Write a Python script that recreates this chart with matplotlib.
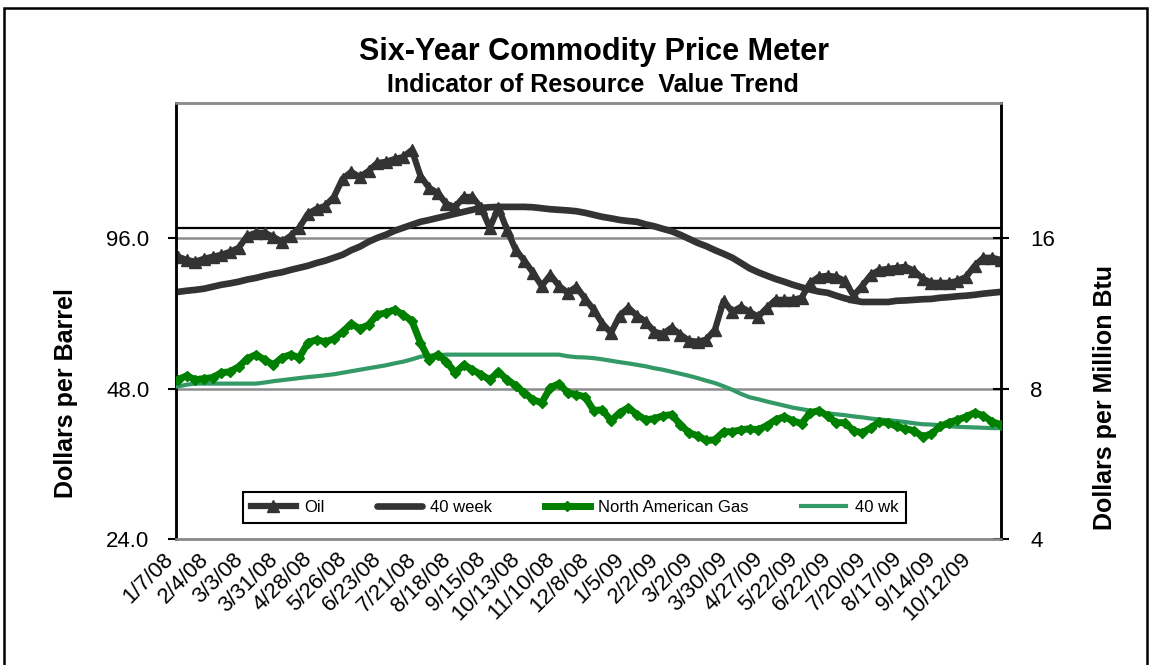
import numpy as np
import matplotlib.pyplot as plt
from matplotlib.patches import Rectangle
from matplotlib.ticker import FixedLocator, FixedFormatter, NullLocator

plt.rcParams['font.family'] = ['Liberation Sans', 'DejaVu Sans']

# weekly series, 1/7/08 .. 11/2/09
oil = [88.2, 86.9, 86.2, 87.4, 88.2, 89.0, 90.2, 91.9, 97.1, 98.5,
       98.5, 96.7, 94.5, 97.1, 100.8, 107.5, 110.0, 111.5, 116.2, 126.3,
       130.4, 127.4, 131.0, 135.9, 136.6, 138.4, 139.7, 144.3, 128.0, 121.1,
       118.4, 112.5, 111.0, 116.2, 116.2, 110.5, 100.8, 110.5, 99.8, 91.0,
       86.6, 81.9, 77.1, 81.1, 77.1, 74.7, 76.8, 72.7, 69.1, 64.8,
       62.1, 67.2, 69.7, 67.2, 65.4, 62.4, 61.8, 63.6, 61.6, 59.9,
       59.6, 60.2, 63.0, 72.0, 68.4, 70.0, 68.4, 66.9, 69.7, 72.3,
       72.3, 72.3, 73.0, 78.2, 80.4, 80.8, 80.4, 78.9, 73.7, 77.1,
       81.1, 83.0, 83.4, 83.8, 84.2, 82.7, 79.7, 78.2, 78.2, 78.2,
       78.9, 80.4, 84.6, 87.8, 87.8, 86.9]
oil_40wk = [75.0, 75.4, 75.7, 76.1, 76.8, 77.5, 78.0, 78.6, 79.4, 80.0,
            80.8, 81.5, 82.1, 83.0, 83.8, 84.6, 85.7, 86.6, 87.8, 89.0,
            90.9, 92.4, 94.5, 96.2, 97.6, 99.4, 100.8, 102.2, 103.6, 104.5,
            105.5, 106.5, 107.5, 108.5, 109.5, 110.5, 110.8, 111.0, 111.0, 111.0,
            111.0, 110.8, 110.3, 109.8, 109.5, 109.2, 108.8, 108.0, 107.0, 106.0,
            105.3, 104.5, 104.0, 103.6, 102.4, 101.5, 100.3, 99.2, 97.6, 95.8,
            94.0, 92.6, 90.9, 89.4, 87.8, 85.7, 83.6, 82.1, 80.8, 79.6,
            78.6, 77.5, 76.6, 75.8, 75.1, 74.7, 73.7, 72.8, 72.1, 71.6,
            71.6, 71.6, 71.6, 72.0, 72.1, 72.3, 72.5, 72.6, 73.0, 73.2,
            73.5, 73.7, 74.0, 74.4, 74.7, 75.0]
gas = [8.34, 8.49, 8.34, 8.38, 8.42, 8.61, 8.65, 8.85, 9.19, 9.36,
       9.14, 8.93, 9.23, 9.36, 9.23, 9.89, 10.03, 9.93, 10.07, 10.40,
       10.79, 10.55, 10.74, 11.25, 11.35, 11.51, 11.25, 10.94, 9.89, 9.14,
       9.36, 9.06, 8.61, 8.93, 8.73, 8.53, 8.34, 8.65, 8.34, 8.11,
       7.85, 7.60, 7.50, 8.04, 8.19, 7.85, 7.78, 7.71, 7.23, 7.26,
       6.90, 7.16, 7.33, 7.10, 6.93, 6.97, 7.06, 7.10, 6.78, 6.53,
       6.44, 6.30, 6.32, 6.56, 6.56, 6.62, 6.65, 6.62, 6.75, 6.93,
       7.03, 6.90, 6.81, 7.16, 7.23, 7.06, 6.84, 6.84, 6.59, 6.53,
       6.68, 6.87, 6.84, 6.72, 6.65, 6.59, 6.41, 6.50, 6.72, 6.84,
       6.93, 7.03, 7.16, 7.06, 6.87, 6.78]
gas_40wk = [8.08, 8.15, 8.19, 8.19, 8.19, 8.19, 8.19, 8.19, 8.19, 8.19,
            8.23, 8.28, 8.32, 8.36, 8.40, 8.44, 8.47, 8.51, 8.55, 8.61,
            8.67, 8.73, 8.79, 8.85, 8.91, 8.99, 9.06, 9.16, 9.27, 9.32,
            9.34, 9.36, 9.36, 9.36, 9.36, 9.36, 9.36, 9.36, 9.36, 9.36,
            9.36, 9.36, 9.36, 9.36, 9.36, 9.29, 9.25, 9.24, 9.21, 9.16,
            9.10, 9.04, 8.99, 8.93, 8.87, 8.79, 8.73, 8.65, 8.57, 8.49,
            8.40, 8.30, 8.21, 8.09, 7.96, 7.81, 7.69, 7.62, 7.54, 7.47,
            7.40, 7.33, 7.28, 7.23, 7.18, 7.14, 7.11, 7.08, 7.04, 7.01,
            6.97, 6.94, 6.92, 6.89, 6.86, 6.82, 6.79, 6.78, 6.76, 6.73,
            6.71, 6.70, 6.69, 6.68, 6.67, 6.67]
date_labels = ["1/7/08", "2/4/08", "3/3/08", "3/31/08", "4/28/08", "5/26/08",
               "6/23/08", "7/21/08", "8/18/08", "9/15/08", "10/13/08", "11/10/08",
               "12/8/08", "1/5/09", "2/2/09", "3/2/09", "3/30/09", "4/27/09",
               "5/22/09", "6/22/09", "7/20/09", "8/17/09", "9/14/09", "10/12/09"]
left_ticks = [24, 48, 96]
right_ticks = [4, 8, 16]

weeks = np.arange(len(oil))

fig = plt.figure(figsize=(11.5, 6.65), dpi=100)
ax = fig.add_axes([176/1150, 1-539/665, 825/1150, 436/665])
ax2 = ax.twinx()

top = 179.2
ax.set_yscale('log', base=2)
ax.set_ylim(24, top)
ax2.set_yscale('log', base=2)
ax2.set_ylim(4, top/6)
ax.set_xlim(-0.23, 95.03)

# grid + reference line
for v in [48, 96]:
    ax.axhline(v, color='#8c8c8c', lw=1.8, zorder=1)
ax.axhline(100.8, color='black', lw=1.6, zorder=1)

ax.plot(weeks, oil_40wk, color='#333333', lw=4.8, solid_capstyle='round', label='40 week', zorder=3)
ax.plot(weeks, oil, color='#333333', lw=4.5, marker='^', ms=8.5, label='Oil', zorder=4)
ax2.plot(weeks, gas_40wk, color='#339966', lw=3.0, label='40 wk', zorder=3)
ax2.plot(weeks, gas, color='#008000', lw=5.0, marker='D', ms=5, label='North American Gas', zorder=4)

# axes styling
for a in (ax, ax2):
    a.spines['top'].set_color('#8c8c8c')
    a.spines['bottom'].set_color('#8c8c8c')
    a.spines['left'].set_color('black')
    a.spines['right'].set_color('black')
    for s in a.spines.values():
        s.set_linewidth(1.8)
    a.yaxis.set_minor_locator(NullLocator())

ax.yaxis.set_major_locator(FixedLocator(left_ticks))
ax.yaxis.set_major_formatter(FixedFormatter([f"{t:.1f}" for t in left_ticks]))
ax.tick_params(axis='y', direction='out', length=6, width=1.5, pad=13, labelsize=16)
ax2.yaxis.set_major_locator(FixedLocator(right_ticks))
ax2.yaxis.set_major_formatter(FixedFormatter([str(t) for t in right_ticks]))
ax2.tick_params(axis='y', direction='inout', length=12, width=1.5, pad=15, labelsize=16)

ax.set_xticks(weeks[::4][:len(date_labels)])
ax.set_xticklabels(date_labels, rotation=45, ha='right', fontsize=16)
ax.tick_params(axis='x', length=0, pad=7)

# titles and axis labels
fig.text(594/1150, 1-60/665, "Six-Year Commodity Price Meter", ha='center', va='baseline',
         fontsize=22, fontweight='bold')
fig.text(593/1150, 1-92/665, "Indicator of Resource  Value Trend", ha='center', va='baseline',
         fontsize=18, fontweight='bold')
fig.text(66/1150, 1-393.5/665, "Dollars per Barrel", rotation=90, ha='center', va='center',
         fontsize=18, fontweight='bold')
fig.text(1105/1150, 1-397.5/665, "Dollars per Million Btu", rotation=90, ha='center', va='center',
         fontsize=18, fontweight='bold')

# legend
h1, l1 = ax.get_legend_handles_labels()
h2, l2 = ax2.get_legend_handles_labels()
handles = [h1[1], h1[0], h2[1], h2[0]]
labels = [l1[1], l1[0], l2[1], l2[0]]
leg = ax2.legend(handles, labels, loc='center', ncol=4,
                 bbox_to_anchor=(0.483, 0.0722),
                 fontsize=12, numpoints=1, handlelength=2.7, handletextpad=0.5,
                 columnspacing=3.15, borderpad=0.5,
                 frameon=True, fancybox=False, edgecolor='black', framealpha=1)
leg.get_frame().set_linewidth(1.5)

# outer border
fig.patches.append(Rectangle((4/1150, -0.05), 1143/1150, (657/665)+0.05, transform=fig.transFigure,
                             fill=False, edgecolor='black', lw=1.8))

plt.savefig("out.png", dpi=100)
